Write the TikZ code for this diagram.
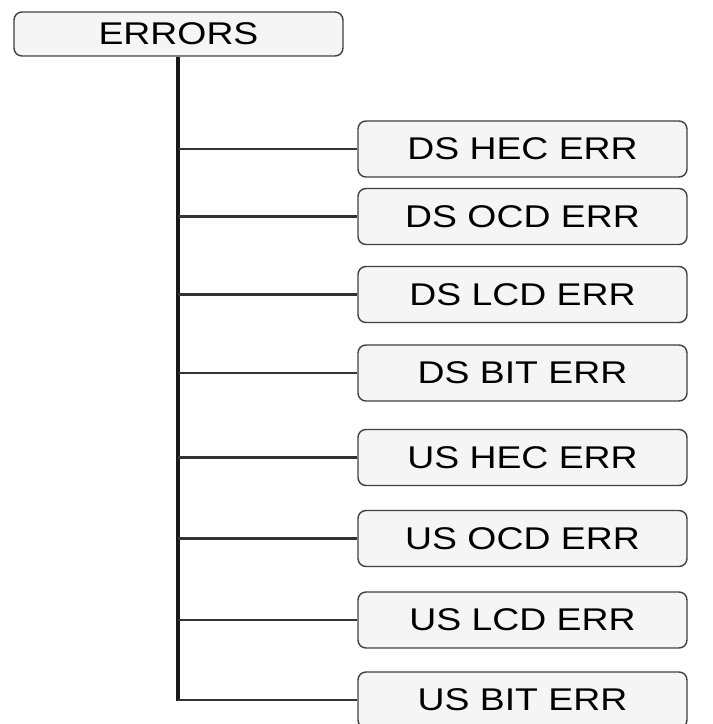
\documentclass[tikz,border=0pt]{standalone}
\usepackage{fontspec}
\setmainfont[FakeStretch=1.19]{Liberation Sans}
\begin{document}
\begin{tikzpicture}[x=1pt,y=1pt,
  box/.style={draw=black!75, line width=1.4pt, rounded corners=8pt, fill=black!4,
    inner sep=0pt, font=\fontsize{31.4}{34}\selectfont},
  rootbox/.style={box, minimum width=329pt, minimum height=44pt},
  leafbox/.style={box, minimum width=329pt, minimum height=56pt},
  trunk/.style={draw=black!90, line width=4pt},
  branch/.style={draw=black!80, line width=2.8pt}]
\useasboundingbox (0,0) rectangle (713,724);
\node[rootbox] (root) at (178.5,690) {ERRORS};
\node[leafbox] (c1) at (522.5,575) {DS HEC ERR};
\node[leafbox] (c2) at (522.5,507.5) {DS OCD ERR};
\node[leafbox] (c3) at (522.5,429.5) {DS LCD ERR};
\node[leafbox] (c4) at (522.5,351) {DS BIT ERR};
\node[leafbox] (c5) at (522.5,266.5) {US HEC ERR};
\node[leafbox] (c6) at (522.5,185.5) {US OCD ERR};
\node[leafbox] (c7) at (522.5,104) {US LCD ERR};
\node[leafbox] (c8) at (522.5,24) {US BIT ERR};
\coordinate (tend) at (177.5,24);
\draw[trunk] (root.south -| tend) -- ([yshift=-1.4pt]tend);
\foreach \i in {1,...,8}{
  \draw[branch] (c\i.west -| tend) -- (c\i.west);
}
\end{tikzpicture}
\end{document}
